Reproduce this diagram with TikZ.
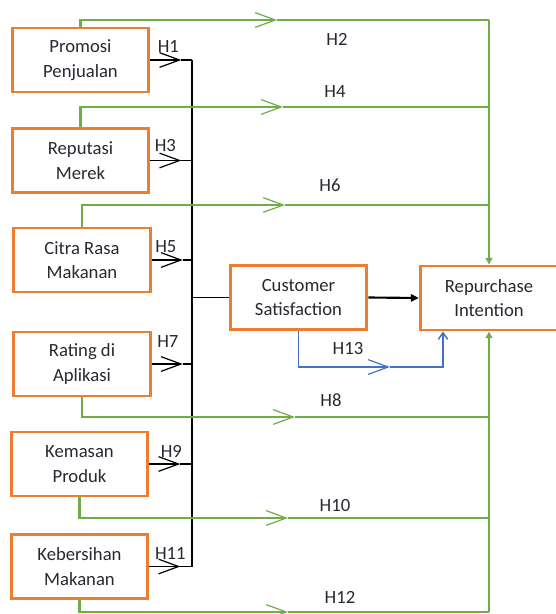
\documentclass[tikz,border=0pt]{standalone}
\usepackage{fontspec}
\setmainfont{Carlito}
\usetikzlibrary{arrows.meta}
\definecolor{hypgreen}{RGB}{112,173,71}
\definecolor{hyporange}{RGB}{237,125,49}
\definecolor{hypblue}{RGB}{68,114,196}
\definecolor{hyptext}{RGB}{40,40,50}

\begin{document}
\begin{tikzpicture}[x=.75pt,y=-.75pt,font=\fontsize{14}{18.5}\selectfont,text=hyptext,
    var/.style={draw=hyporange,line width=2.2pt,minimum width=102.5pt,minimum height=48pt,inner sep=0pt,align=center},
    barb/.style={-{Straight Barb[length=15pt,width=11pt,line width=.9pt]}},
    gline/.style={draw=hypgreen,line width=1.8pt},
    bline/.style={draw=hypblue,line width=1.1pt}]
    \useasboundingbox (0,0) rectangle (556,614);
    \clip (0,0) rectangle (556,614);
    \node[var] (pp) at (80.5,60) {Promosi\\Penjualan};
    \node[var] (rm) at (80.5,160.5) {Reputasi\\Merek};
    \node[var] (cr) at (82,260) {Citra Rasa\\Makanan};
    \node[var] (ra) at (82,364) {Rating di\\Aplikasi};
    \node[var] (kp) at (79.5,464) {Kemasan\\Produk};
    \node[var] (km) at (79.5,566.5) {Kebersihan\\Makanan};
    \node[var] (cs) at (298.5,297.5) {Customer\\Satisfaction};
    \node[var,draw=none,outer sep=1.1pt,minimum width=103pt] (ri) at (489,298) {Repurchase\\Intention};
    \coordinate (edge) at (580,0);
    \draw[hyporange,line width=2.2pt] ([xshift=-1.1pt,yshift=-1.1pt]ri.north west -| edge) -- ([xshift=1.1pt,yshift=-1.1pt]ri.north west)
        -- ([xshift=1.1pt,yshift=1.1pt]ri.south west) -- ([xshift=-1.1pt,yshift=1.1pt]ri.south west -| edge);
    \coordinate (bus) at (192,0);
    \draw[line width=1.2pt] (pp.east -| bus) -- (km.east -| bus);
    \foreach \v/\h/\dx/\dy in {pp/H1/18/-14,rm/H3/15/-14.5,cr/H5/14/-13,ra/H7/16/-22,kp/H9/22/-13,km/H11/21/-13.5} {
        \draw[barb,line width=1.2pt] (\v.east) -- ++(31,0) coordinate (tip);
        \draw[line width=1.2pt] (tip) -- (\v.east -| bus);
        \path (\v.east) ++(\dx,\dy) node {\h};
    }
    \draw[line width=1.2pt] (cs.west -| bus) -- (cs.west);
    \draw[line width=1.6pt,-{Triangle[length=6pt,width=5.5pt]}] (cs.east) -- (ri.west);
    \foreach \v/\a/\y/\t in {pp/north/20/277,rm/north/107/283,cr/north/205/285,ra/south/417/295,kp/south/518/288,km/south/612/288} {
        \draw[gline,barb] (\v.\a) |- (\t,\y) coordinate (gt);
        \draw[gline] (gt) -- (gt -| ri);
    }
    \coordinate (gtop) at (489,20);
    \coordinate (gbot) at (489,612);
    \draw[gline,-{Triangle[length=5pt,width=5pt]}] (gtop) -- (ri.north);
    \draw[gline,-{Triangle[length=5pt,width=5pt]}] (gbot) -- (ri.south);
    \node at (337,39) {H2};
    \node at (335,92) {H4};
    \node at (330,185) {H6};
    \node at (331,400) {H8};
    \node at (335,506) {H10};
    \node at (340,597) {H12};
    \draw[bline,barb] (cs.south) |- (390,367) coordinate (bt);
    \coordinate (bend) at (443,367);
    \draw[bline,-{Straight Barb[length=5pt,width=7pt]}] (bt) -- (bend) -- (bend |- ri.south);
    \node at (348,349) {H13};
\end{tikzpicture}
\end{document}
